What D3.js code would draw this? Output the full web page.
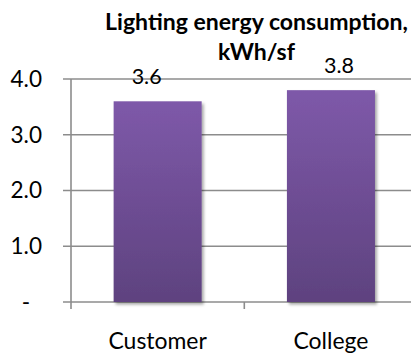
<!DOCTYPE html>
<html>
<head>
<meta charset="utf-8">
<script src="https://cdn.jsdelivr.net/npm/d3@7/dist/d3.min.js"></script>
<style>
  html, body { margin: 0; padding: 0; background: #fff; }
  svg { display: block; font-family: Lato, "Open Sans", sans-serif; }
</style>
</head>
<body>
<svg id="chart" width="411" height="353"></svg>
<script>
// Chart data
const categories = ["Customer", "College"];
const values = [3.6, 3.8];
const yTicks = [0, 1, 2, 3, 4];
const titleLines = ["Lighting energy consumption,", "kWh/sf"];

const svg = d3.select("#chart");
const W = 411, H = 353;

// Plot area (the category band runs slightly past the right edge of the view)
const plot = { left: 71, right: 417.6, top: 79, bottom: 302 };

const x = d3.scaleBand().domain(categories).range([plot.left, plot.right]).padding(0);
const y = d3.scaleLinear().domain([0, 4]).range([plot.bottom, plot.top]);
const barFrac = 0.508;

// Size a group of texts so that a reference string spans the wanted width
function fitFont(sel, sample, width, weight) {
  const probe = svg.append("text").attr("font-size", 100)
    .attr("font-weight", weight || "normal").text(sample);
  const w = probe.node().getComputedTextLength();
  probe.remove();
  sel.attr("font-size", 100 * width / w);
}

// Gradient and shadow for the bars
const defs = svg.append("defs");
const grad = defs.append("linearGradient").attr("id", "barGrad")
  .attr("x1", 0).attr("y1", 0).attr("x2", 0).attr("y2", 1);
grad.append("stop").attr("offset", "0%").attr("stop-color", "#7E59A9");
grad.append("stop").attr("offset", "100%").attr("stop-color", "#5E427F");
const shadow = defs.append("filter").attr("id", "shadow")
  .attr("x", "-10%").attr("y", "-10%").attr("width", "130%").attr("height", "130%");
shadow.append("feDropShadow").attr("dx", 2).attr("dy", 2.5).attr("stdDeviation", 1.8)
  .attr("flood-color", "#000").attr("flood-opacity", 0.35);

const gridColor = "#8c8c8c";

// Horizontal gridlines with short outside ticks
svg.append("g").selectAll("line").data(yTicks).join("line")
  .attr("x1", plot.left - 8).attr("x2", W)
  .attr("y1", d => y(d)).attr("y2", d => y(d))
  .attr("stroke", gridColor).attr("stroke-width", 1.6);

// Value axis line
svg.append("line")
  .attr("x1", plot.left).attr("x2", plot.left)
  .attr("y1", y(4)).attr("y2", plot.bottom + 7)
  .attr("stroke", gridColor).attr("stroke-width", 1.6);

// Category boundary ticks
const bounds = categories.slice(1).map(c => x(c));
svg.append("g").selectAll("line").data(bounds).join("line")
  .attr("x1", d => d).attr("x2", d => d)
  .attr("y1", plot.bottom).attr("y2", plot.bottom + 7)
  .attr("stroke", gridColor).attr("stroke-width", 1.6);

// Y tick labels (zero shown as a dash)
const yLabels = svg.append("g").selectAll("text").data(yTicks).join("text")
  .attr("x", d => d === 0 ? 26 : 42)
  .attr("y", d => y(d))
  .attr("dy", "0.35em")
  .attr("text-anchor", d => d === 0 ? "middle" : "end")
  .attr("fill", "#000")
  .text(d => d === 0 ? "-" : d3.format(".1f")(d));
fitFont(yLabels, "4.0", 31.5);

// Bars
const bw = x.bandwidth() * barFrac;
svg.append("g").selectAll("rect").data(values).join("rect")
  .attr("x", (d, i) => x(categories[i]) + (x.bandwidth() - bw) / 2)
  .attr("y", d => y(d))
  .attr("width", bw)
  .attr("height", d => y(0) - y(d))
  .attr("fill", "url(#barGrad)")
  .attr("filter", "url(#shadow)");

// Value labels above bars
const labelShift = [-11, 8];
const valLabels = svg.append("g").selectAll("text").data(values).join("text")
  .attr("x", (d, i) => x(categories[i]) + x.bandwidth() / 2 + labelShift[i])
  .attr("y", d => y(d) - 17.5)
  .attr("text-anchor", "middle")
  .attr("fill", "#000")
  .text(d => d3.format(".1f")(d));
fitFont(valLabels, "3.6", 30);

// Category labels
const catLabels = svg.append("g").selectAll("text").data(categories).join("text")
  .attr("x", d => x(d) + x.bandwidth() / 2)
  .attr("y", 349)
  .attr("text-anchor", "middle")
  .attr("fill", "#000")
  .text(d => d);
fitFont(catLabels, "Customer", 98.4);

// Title
const title = svg.append("g").selectAll("text").data(titleLines).join("text")
  .attr("x", 256.5)
  .attr("y", (d, i) => 29.5 + i * 30)
  .attr("text-anchor", "middle")
  .attr("font-weight", "bold")
  .attr("fill", "#000")
  .text(d => d);
fitFont(title, titleLines[0], 303, "bold");
</script>
</body>
</html>
